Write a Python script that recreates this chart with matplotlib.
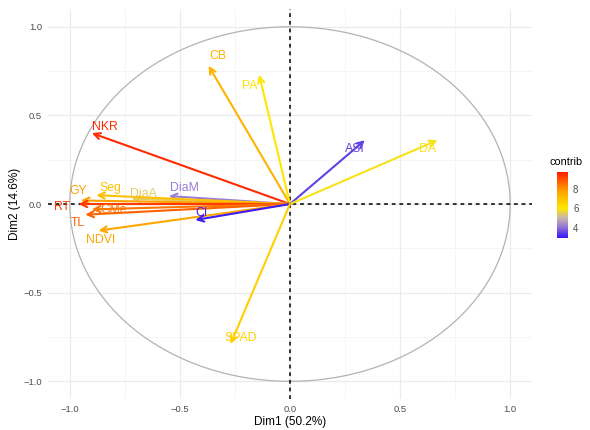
import matplotlib.pyplot as plt
import numpy as np
from matplotlib.colors import LinearSegmentedColormap, Normalize
from matplotlib.cm import ScalarMappable

plt.rcParams["font.family"] = ["Liberation Sans", "DejaVu Sans"]

# variable loadings on Dim1 / Dim2 and their contribution
variables = ["CB", "PA", "NKR", "ASI", "DA", "DiaM", "DiaA", "Seg",
             "GY", "RT", "GMe", "TL", "NDVI", "CI", "SPAD"]
dim1 = [-0.37, -0.14, -0.90, 0.34, 0.67, -0.55, -0.72, -0.88,
        -0.95, -0.96, -0.90, -0.93, -0.87, -0.43, -0.27]
dim2 = [0.78, 0.73, 0.40, 0.36, 0.36, 0.045, 0.03, 0.05,
        0.02, 0.0, -0.03, -0.06, -0.15, -0.09, -0.79]
contrib = [7.3, 6.1, 9.5, 3.5, 5.9, 4.2, 5.5, 7.0,
           7.8, 9.3, 8.4, 8.7, 7.6, 3.1, 6.6]

# label nudges (pixels) so the text sits like the original
label_offsets = {
    "CB": (9, 10), "PA": (-9, -11), "NKR": (13, 6), "ASI": (-10, -9),
    "DA": (-10, -9), "DiaM": (16, 8), "DiaA": (12, 5), "Seg": (14, 7),
    "GY": (-3, 9), "RT": (-17, -3), "GMe": (22, -1), "TL": (-7, -8),
    "NDVI": (2, -9), "CI": (6, 7), "SPAD": (10, 6),
}

vmin, vmax = 3.0, 9.7
cmap = LinearSegmentedColormap.from_list(
    "contrib",
    [(0.0, "#3a14f5"), (0.18, "#9a7fd0"), (0.3, "#c8b4b0"),
     (0.45, "#ffe800"), (0.72, "#ff9e00"), (1.0, "#ff1e00")])
norm = Normalize(vmin=vmin, vmax=vmax)

fig = plt.figure(figsize=(5.9, 4.3), dpi=100)
ax = fig.add_axes([0.081, 0.072, 0.821, 0.907])

ax.set_xlim(-1.1, 1.1)
ax.set_ylim(-1.1, 1.1)

# grid like theme_minimal
for v in [-0.75, -0.25, 0.25, 0.75]:
    ax.axvline(v, color="#f4f4f4", lw=0.6, zorder=0)
    ax.axhline(v, color="#f4f4f4", lw=0.6, zorder=0)
for v in [-1.0, -0.5, 0.0, 0.5, 1.0]:
    ax.axvline(v, color="#ebebeb", lw=0.9, zorder=0)
    ax.axhline(v, color="#ebebeb", lw=0.9, zorder=0)

theta = np.linspace(0, 2 * np.pi, 400)
ax.plot(np.cos(theta), np.sin(theta), color="#b3b3b3", lw=0.9, zorder=1)

ax.axhline(0, color="black", lw=1.1, ls=(0, (2.5, 2.5)), zorder=2)
ax.axvline(0, color="black", lw=1.1, ls=(0, (2.5, 2.5)), zorder=2)

for name, x, y, c in zip(variables, dim1, dim2, contrib):
    col = cmap(norm(c))
    ax.annotate("", xy=(x, y), xytext=(0, 0),
                arrowprops=dict(arrowstyle="->,head_length=0.45,head_width=0.22",
                                color=col, lw=1.5, shrinkA=0, shrinkB=0),
                zorder=3)
    dx, dy = label_offsets[name]
    ax.annotate(name, xy=(x, y), xytext=(dx, dy), textcoords="offset pixels",
                ha="center", va="center", color=col, fontsize=8.8, zorder=4)

ax.set_xticks([-1.0, -0.5, 0.0, 0.5, 1.0])
ax.set_yticks([-1.0, -0.5, 0.0, 0.5, 1.0])
ax.tick_params(length=0, labelsize=6.8, labelcolor="#4d4d4d", pad=4)
for s in ax.spines.values():
    s.set_visible(False)
ax.set_xlabel("Dim1 (50.2%)", fontsize=8.5, labelpad=2)
ax.set_ylabel("Dim2 (14.6%)", fontsize=8.5, labelpad=2)

cax = fig.add_axes([0.944, 0.447, 0.019, 0.153])
cb = fig.colorbar(ScalarMappable(norm=norm, cmap=cmap), cax=cax)
cb.set_ticks([4, 6, 8])
cb.outline.set_visible(False)
cb.ax.tick_params(length=0, labelsize=7, labelcolor="#4d4d4d")
fig.text(566 / 590, 1 - 162 / 430, "contrib", ha="center", va="center",
         fontsize=7.8)

fig.savefig("out.png", dpi=100)
